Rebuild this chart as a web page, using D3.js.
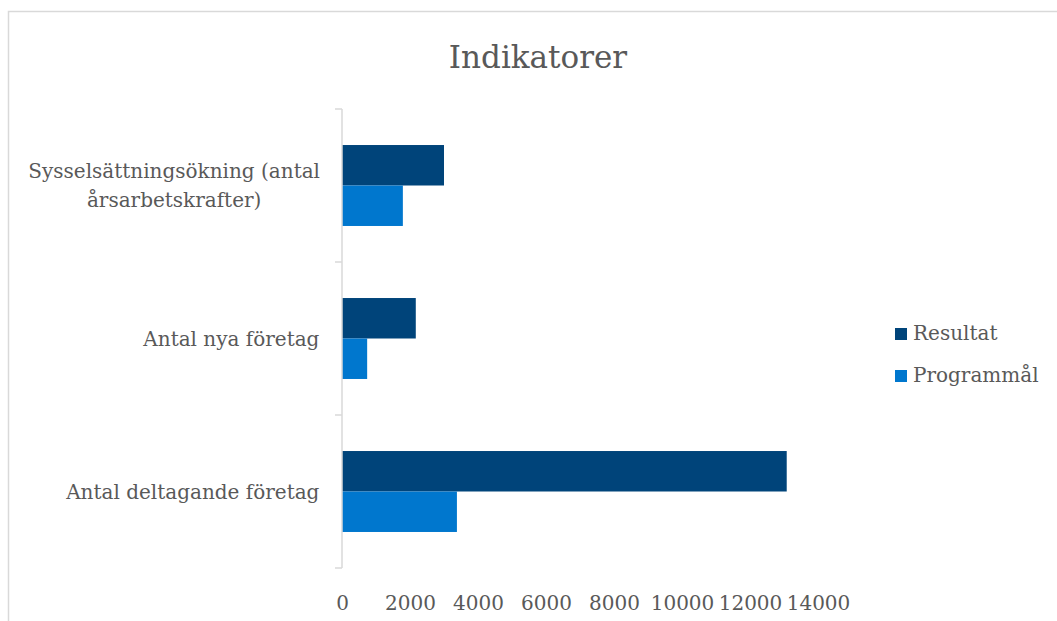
<!DOCTYPE html>
<html lang="sv">

<head>
  <meta charset="UTF-8">
  <title>Indikatorer</title>
  <script src="https://cdnjs.cloudflare.com/ajax/libs/d3/7.8.5/d3.min.js"></script>
  <style>
    body { margin: 0; background: #fff; }
    text { font-family: "DejaVu Serif", serif; fill: #595959; }
  </style>
</head>

<body>
  <svg></svg>
  <script>
    // data
    const categories = [
      'Sysselsättningsökning (antal\nårsarbetskrafter)',
      'Antal nya företag',
      'Antal deltagande företag'
    ];
    const series = ['Resultat', 'Programmål'];
    const resultat = [3000, 2170, 13080];
    const programmal = [1790, 740, 3380];
    const xTicks = [0, 2000, 4000, 6000, 8000, 10000, 12000, 14000];

    const colors = { 'Resultat': '#00447A', 'Programmål': '#0077CE' };

    const W = 1057, H = 621;
    const svg = d3.select('svg').attr('width', W).attr('height', H);

    // chart border
    svg.append('rect')
      .attr('x', 8.5).attr('y', 11.5)
      .attr('width', W + 10).attr('height', H + 10)
      .style('fill', 'none').style('stroke', '#D9D9D9').style('stroke-width', '1.5px');

    svg.append('text')
      .attr('x', 538).attr('y', 68)
      .attr('text-anchor', 'middle')
      .style('font-size', '31px')
      .text('Indikatorer');

    const x = d3.scaleLinear().domain([0, 14000]).range([342, 818]);
    const y = d3.scaleBand().domain(categories).range([109, 568]);
    const ySub = d3.scaleBand().domain(series).range([0, y.bandwidth()])
      .paddingInner(0).paddingOuter(0.89);

    const rows = categories.map((c, i) => ({
      cat: c,
      vals: [{ s: 'Resultat', v: resultat[i] }, { s: 'Programmål', v: programmal[i] }]
    }));

    const g = svg.selectAll('g.cat')
      .data(rows)
      .enter()
      .append('g')
      .attr('class', 'cat')
      .attr('transform', d => `translate(0,${y(d.cat)})`);

    g.selectAll('rect')
      .data(d => d.vals)
      .enter()
      .append('rect')
      .attr('x', x(0))
      .attr('y', d => ySub(d.s))
      .attr('width', d => x(d.v) - x(0))
      .attr('height', ySub.bandwidth())
      .style('fill', d => colors[d.s]);

    // vertical axis line with ticks on band edges
    const edges = categories.map(c => y(c)).concat([y.range()[1]]);
    svg.append('line')
      .attr('x1', x(0)).attr('x2', x(0))
      .attr('y1', y.range()[0]).attr('y2', y.range()[1])
      .style('stroke', '#D9D9D9').style('stroke-width', '1.5px');
    svg.selectAll('line.edge')
      .data(edges)
      .enter()
      .append('line')
      .attr('class', 'edge')
      .attr('x1', x(0) - 7).attr('x2', x(0))
      .attr('y1', d => d).attr('y2', d => d)
      .style('stroke', '#D9D9D9').style('stroke-width', '1.5px');

    // category labels
    const lineH = 29;
    categories.forEach(c => {
      const lines = c.split('\n');
      const t = svg.append('text')
        .attr('text-anchor', 'middle')
        .style('font-size', '20px');
      const cy = y(c) + y.bandwidth() / 2;
      lines.forEach((l, i) => {
        t.append('tspan')
          .attr('x', 0)
          .attr('y', cy + 7 + (i - (lines.length - 1) / 2) * lineH)
          .text(l);
      });
      const bb = t.node().getBBox();
      t.attr('transform', `translate(${320 - bb.width / 2},0)`);
    });

    // x axis labels
    const xAxis = svg.append('g')
      .attr('transform', `translate(0,590)`)
      .call(d3.axisBottom(x).tickValues(xTicks).tickSize(0).tickPadding(0).tickFormat(d3.format('d')));
    xAxis.select('.domain').remove();
    xAxis.selectAll('text')
      .attr('dy', '1em')
      .style('font-size', '20px')
      .style('font-family', '"DejaVu Serif", serif')
      .style('fill', '#595959');

    // legend
    const leg = svg.selectAll('g.leg')
      .data(series)
      .enter()
      .append('g')
      .attr('class', 'leg')
      .attr('transform', (d, i) => `translate(895,${328 + i * 42})`);
    leg.append('rect')
      .attr('width', 12).attr('height', 12)
      .style('fill', d => colors[d]);
    leg.append('text')
      .attr('x', 18).attr('y', 12)
      .style('font-size', '20px')
      .text(d => d);
  </script>
</body>

</html>
